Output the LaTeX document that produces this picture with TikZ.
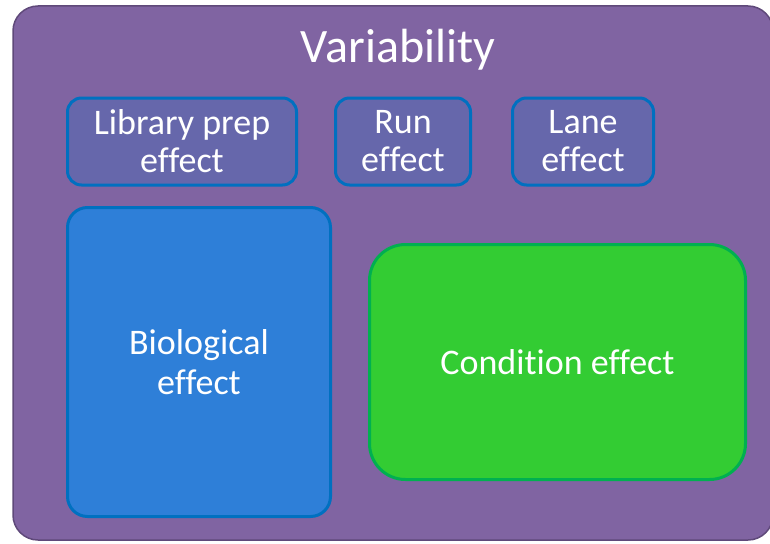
\documentclass[tikz,border=0pt]{standalone}
\usepackage{fontspec}
\setmainfont{Carlito}[Ligatures={NoCommon,NoContextual}]
\definecolor{varfill}{HTML}{8064A2}
\definecolor{vardraw}{HTML}{5F497A}
\definecolor{smallfill}{HTML}{6667AB}
\definecolor{boxdraw}{HTML}{0070C0}
\definecolor{biofill}{HTML}{2E7FD8}
\definecolor{condfill}{HTML}{33CC33}
\definecolor{conddraw}{HTML}{00B050}
\tikzset{every node/.style={text=white, align=center, inner sep=0pt},
  outerbox/.style={rectangle, rounded corners=25pt, fill=varfill, draw=vardraw, line width=1.5pt},
  smallbox/.style={rectangle, rounded corners=14pt, fill=smallfill, draw=boxdraw, line width=3pt,
    font=\fontsize{36}{38}\selectfont},
  bigbox/.style={rectangle, line width=3pt, font=\fontsize{36}{40}\selectfont}}

\begin{document}
\begin{tikzpicture}[x=1pt,y=-1pt]
  \useasboundingbox (0,0) rectangle (770,543);
  \node[outerbox, minimum width=760pt, minimum height=534pt] (var) at (393,273) {};
  \node[font=\fontsize{48}{52}\selectfont] (title) at (398,50) {Variability};
  \node[smallbox, minimum width=229pt, minimum height=87pt] (libprep) at (182,141.5) {Library prep\\ef{}fect};
  \node[smallbox, minimum width=135pt, minimum height=87pt] (run) at (403,141.5) {Run\\ef{}fect};
  \node[smallbox, minimum width=141pt, minimum height=87pt] (lane) at (583,141.5) {Lane\\ef{}fect};
  \node[bigbox, rounded corners=20pt, fill=biofill, draw=boxdraw,
    minimum width=263pt, minimum height=309pt] (bio) at (199,362) {Biological\\ef{}fect};
  \node[bigbox, rounded corners=36pt, fill=condfill, draw=conddraw,
    minimum width=376pt, minimum height=235pt] (cond) at (557.5,362) {Condition ef{}fect};
\end{tikzpicture}
\end{document}
